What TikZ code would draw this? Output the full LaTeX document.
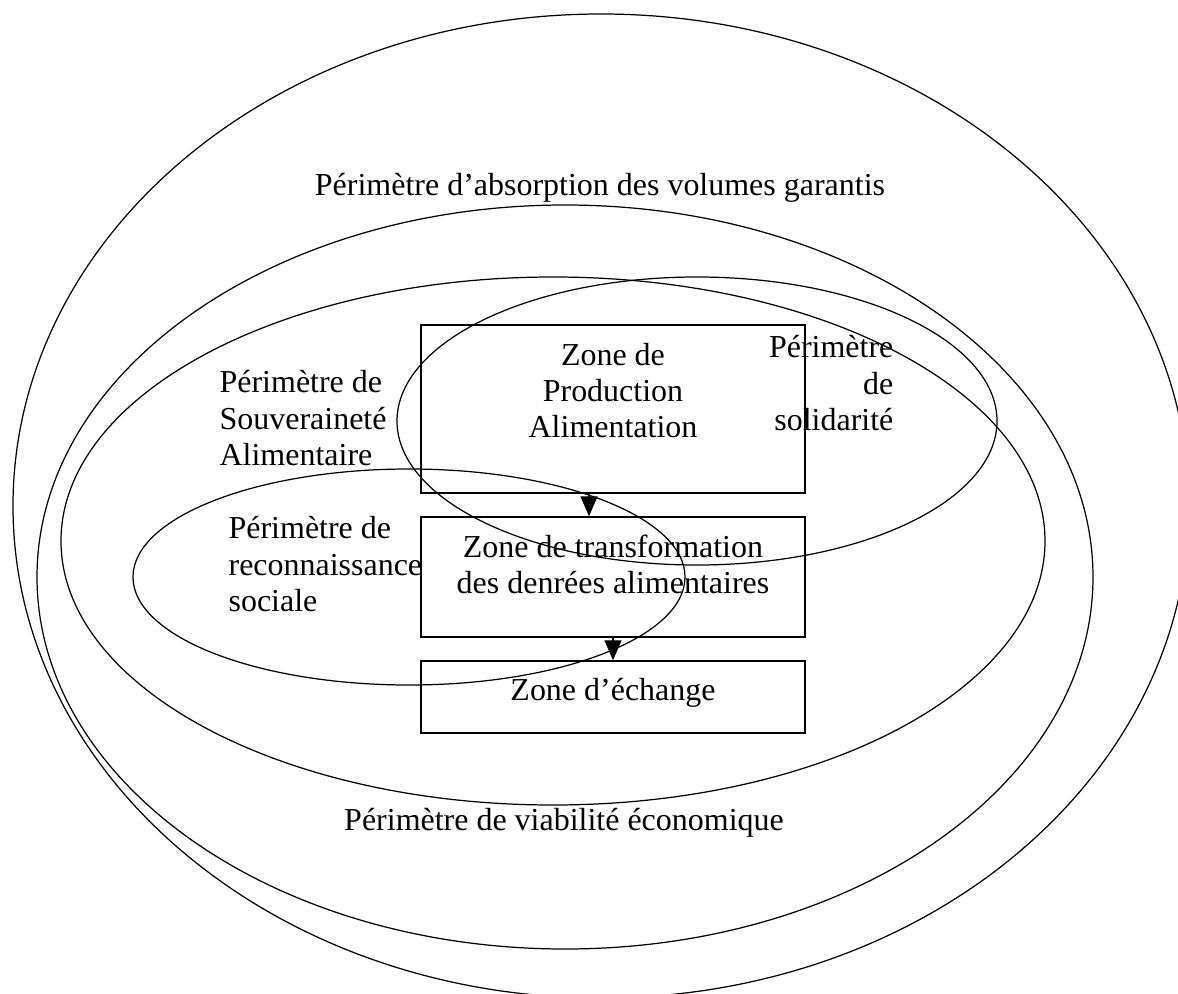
\documentclass[tikz,border=0pt]{standalone}
\usepackage{fontspec}
\setmainfont{Liberation Serif}
\usetikzlibrary{positioning, arrows.meta}

\begin{document}
\begin{tikzpicture}[x=0.02cm, y=-0.02cm, >={Triangle[length=0.4cm, width=0.34cm]}, line width=0.7pt,
zone/.style={draw, line width=0.8pt, minimum width=7.68cm, inner sep=0pt},
txt/.style={inner sep=0pt, font=\fontsize{18.2pt}{20.7pt}\selectfont}]
\useasboundingbox (0,0) rectangle (1178,994);
\clip (0,0) rectangle (1178,994);
\draw (601,506) ellipse [x radius=588, y radius=492];
\draw (565,577) ellipse [x radius=528, y radius=372];
\draw (553,541) ellipse [x radius=492, y radius=264];
\draw (697,421) ellipse [x radius=300, y radius=144];
\draw (409,577) ellipse [x radius=276, y radius=108];
\node[zone, minimum height=3.36cm] (prod) at (613,409) {};
\node[zone, minimum height=2.4cm] (trans) at (613,577) {};
\node[zone, minimum height=1.44cm] (echange) at (613,697) {};
\node[txt, align=center, below=0.36cm of prod.north] (prodtxt) {Zone de\\Production\\Alimentation};
\node[txt, align=center, below=0.36cm of trans.north] (transtxt) {Zone de transformation\\des denrées alimentaires};
\node[txt, below=0.34cm of echange.north] (echangetxt) {Zone d’échange};
\draw[->] ([xshift=-0.48cm]prod.south) -- ([xshift=-0.48cm]trans.north);
\draw[->] (trans.south) -- (echange.north);
\node[txt, anchor=base] (absorption) at (600,195) {Périmètre d’absorption des volumes garantis};
\node[txt, anchor=base] (viabilite) at (564,830) {Périmètre de viabilité économique};
\node[txt, align=left, anchor=north west] (souverainete) at (219,370) {Périmètre de\\Souveraineté\\Alimentaire};
\node[txt, align=right, anchor=north east] (solidarite) at (894,335) {Périmètre\\de\\solidarité};
\node[txt, align=left, anchor=north west] (reconnaissance) at (228,516) {Périmètre de\\reconnaissance\\sociale};
\end{tikzpicture}
\end{document}
